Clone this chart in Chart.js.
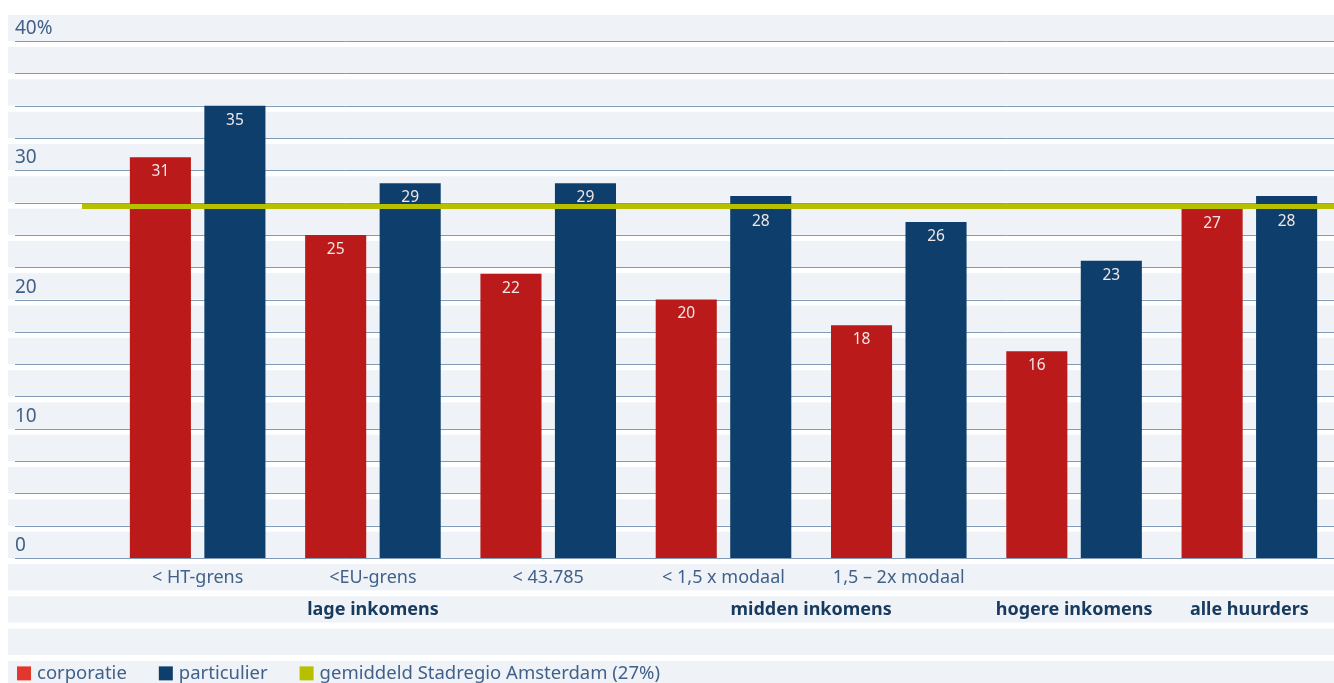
<!DOCTYPE html>
<html>
<head>
<meta charset="utf-8">
<script src="https://cdn.jsdelivr.net/npm/chart.js@4"></script>
<style>
  html, body { margin: 0; padding: 0; background: #ffffff; overflow: hidden; }
  canvas { display: block; }
</style>
</head>
<body>
<canvas id="huurChart" width="1337" height="683"></canvas>
<script>
// Data
var categories = ['< HT-grens', '<EU-grens', '< 43.785', '< 1,5 x modaal', '1,5 \u2013 2x modaal', '', ''];
var corporatie = [31, 25, 22, 20, 18, 16, 27];
var particulier = [35, 29, 29, 28, 26, 23, 28];
var stadsregioGemiddeld = 27;
var groupLabels = ['lage inkomens', 'midden inkomens', 'hogere inkomens', 'alle huurders'];
var groupFrom = [0, 3, 5, 6];
var groupTo = [2, 4, 5, 6];
var yTicks = [0, 10, 20, 30, 40];
var legendLabels = ['corporatie', 'particulier', 'gemiddeld Stadregio Amsterdam (27%)'];

var FONT = '"Noto Sans", sans-serif';
var BAND = '#eff3f7';
var GRID = '#819bb6';
var TEXT = '#41618a';
var RED = '#bb1a1a';
var BLUE = '#0e3f6c';
var GREEN = '#b6c000';

// background stripes, gridlines, tick labels
var backdrop = {
  id: 'backdrop',
  beforeDraw: function(chart) {
    var ctx = chart.ctx;
    var y = chart.scales.y;
    var w = chart.width;
    ctx.save();
    ctx.fillStyle = BAND;
    for (var v = 40; v >= -10; v -= 2.5) {
      var bottom = y.getPixelForValue(v);
      var top = v === 40 ? 15 : y.getPixelForValue(v + 2.5) + 6;
      if (v === -10) bottom = chart.height;
      ctx.fillRect(8, top, w - 8, bottom - top);
    }
    ctx.strokeStyle = GRID;
    ctx.lineWidth = 1;
    for (var g = 0; g <= 40; g += 2.5) {
      var py = Math.round(y.getPixelForValue(g)) + 0.5;
      ctx.beginPath();
      ctx.moveTo(15, py);
      ctx.lineTo(w, py);
      ctx.stroke();
    }
    ctx.fillStyle = TEXT;
    ctx.font = '19px ' + FONT;
    ctx.textAlign = 'left';
    ctx.textBaseline = 'alphabetic';
    yTicks.forEach(function(t) {
      ctx.fillText(t === 40 ? t + '%' : String(t), 15, y.getPixelForValue(t) - 7);
    });
    ctx.restore();
  },
  afterDatasetsDraw: function(chart) {
    var ctx = chart.ctx;
    var x = chart.scales.x;
    var y = chart.scales.y;
    ctx.save();

    // average line, resting on the 27% level
    var ay = y.getPixelForValue(stadsregioGemiddeld) - 2.5;
    ctx.strokeStyle = GREEN;
    ctx.lineWidth = 5;
    ctx.beginPath();
    ctx.moveTo(x.left - 28, ay);
    ctx.lineTo(chart.width, ay);
    ctx.stroke();

    // value labels inside bars, pushed below the average line when they would overlap it
    ctx.fillStyle = '#f2e6e6';
    ctx.font = '15.5px ' + FONT;
    ctx.textAlign = 'center';
    ctx.textBaseline = 'middle';
    chart.data.datasets.forEach(function(ds, di) {
      var meta = chart.getDatasetMeta(di);
      meta.data.forEach(function(bar, i) {
        var ty = bar.y + 14.5;
        if (ty + 4 > ay - 2.5 && ty - 4 < ay + 2.5) ty = ay + 15.5;
        ctx.fillText(String(ds.data[i]), bar.x, ty);
      });
    });

    // category labels
    ctx.fillStyle = TEXT;
    ctx.font = '18px ' + FONT;
    categories.forEach(function(c, i) {
      if (c) ctx.fillText(c, x.getPixelForValue(i), y.getPixelForValue(-1.5));
    });

    // income group labels
    ctx.fillStyle = '#173a5e';
    ctx.font = 'bold 18px ' + FONT;
    groupLabels.forEach(function(g, i) {
      ctx.fillText(g, x.getPixelForValue((groupFrom[i] + groupTo[i]) / 2), y.getPixelForValue(-4.0));
    });

    // legend
    var colors = [chart.data.datasets[0].legendColor, chart.data.datasets[1].backgroundColor, GREEN];
    var ly = y.getPixelForValue(-8.85) + 1;
    var lx = 17;
    ctx.font = '18.5px ' + FONT;
    ctx.textAlign = 'left';
    legendLabels.forEach(function(l, i) {
      ctx.fillStyle = colors[i];
      ctx.fillRect(lx, ly - 7, 14, 14);
      ctx.fillStyle = TEXT;
      ctx.fillText(l, lx + 20, ly);
      lx += 20 + ctx.measureText(l).width + 32;
    });
    ctx.restore();
  }
};

new Chart(document.getElementById('huurChart').getContext('2d'), {
  type: 'bar',
  data: {
    labels: categories,
    datasets: [{
      label: legendLabels[0],
      data: corporatie,
      backgroundColor: RED,
      legendColor: '#e3362c',
      barPercentage: 0.82,
      categoryPercentage: 0.85
    }, {
      label: legendLabels[1],
      data: particulier,
      backgroundColor: BLUE,
      barPercentage: 0.82,
      categoryPercentage: 0.85
    }]
  },
  options: {
    responsive: false,
    animation: false,
    layout: { padding: { top: 41, bottom: 125, left: 110, right: 0 } },
    plugins: {
      legend: { display: false },
      tooltip: { enabled: false }
    },
    scales: {
      x: { display: false },
      y: { display: false, min: 0, max: 40 }
    }
  },
  plugins: [backdrop]
});
</script>
</body>
</html>
